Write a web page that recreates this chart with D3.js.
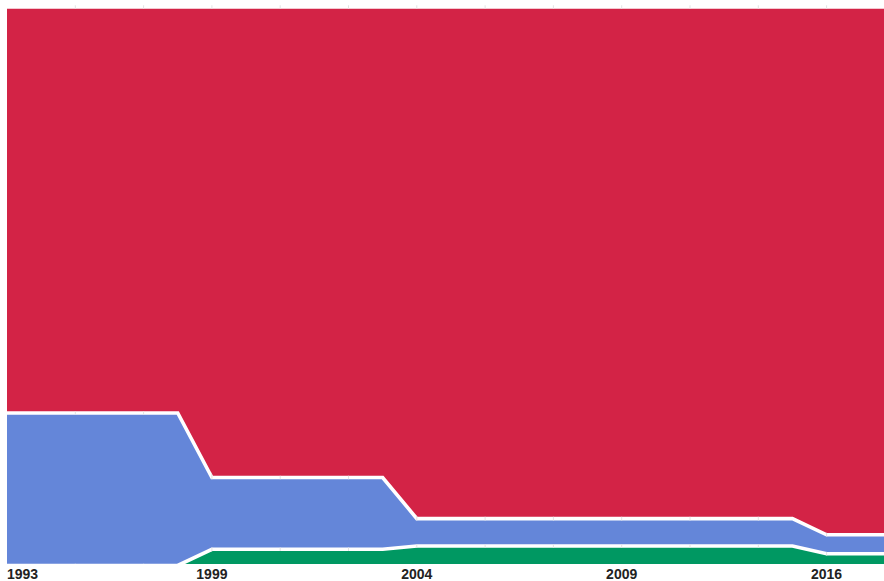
<!DOCTYPE html>
<html>
<head>
<meta charset="utf-8">
<script src="https://cdn.jsdelivr.net/npm/d3@7/dist/d3.min.js"></script>
<style>
  html, body { margin: 0; padding: 0; background: #fff; }
  svg { display: block; }
</style>
</head>
<body>
<svg id="chart" width="884" height="581"></svg>
<script>
// ---- data (percent share per category position) ----
const greenValues = [0, 0, 0, 0, 0, 0,
  2.9, 2.9, 2.9, 2.9, 2.9, 2.9,
  3.5, 3.5, 3.5, 3.5, 3.5, 3.5, 3.5, 3.5, 3.5, 3.5, 3.5, 3.5,
  2.1, 2.1, 2.1];
const blueValues = [27.3, 27.3, 27.3, 27.3, 27.3, 27.3,
  12.85, 12.85, 12.85, 12.85, 12.85, 12.85,
  4.9, 4.9, 4.9, 4.9, 4.9, 4.9, 4.9, 4.9, 4.9, 4.9, 4.9, 4.9,
  3.4, 3.4, 3.4];
const redValues = [72.7, 72.7, 72.7, 72.7, 72.7, 72.7,
  84.25, 84.25, 84.25, 84.25, 84.25, 84.25,
  91.6, 91.6, 91.6, 91.6, 91.6, 91.6, 91.6, 91.6, 91.6, 91.6, 91.6, 91.6,
  94.5, 94.5, 94.5];
const tickLabels = ["1993", "1999", "2004", "2009", "2016"];
const tickPositions = [0, 6, 12, 18, 24];
const gridPositions = [2, 4, 6, 8, 10, 12, 14, 16, 18, 20, 22, 24, 26];

const seriesKeys = ["green", "blue", "red"];
const colors = { green: "#009862", blue: "#6486d9", red: "#d32346" };

const categories = d3.range(redValues.length);
const table = categories.map(i => ({
  i, green: greenValues[i], blue: blueValues[i], red: redValues[i]
}));

// ---- layout ----
const W = 884, H = 581;
const svg = d3.select("#chart");
const x = d3.scalePoint().domain(categories).range([7, 7 + 34.15 * (categories.length - 1)]);
const y = d3.scaleLinear().domain([0, 1]).range([565.5, 7]);

const stack = d3.stack().keys(seriesKeys).offset(d3.stackOffsetExpand);
const layers = stack(table);

const defs = svg.append("defs");
defs.append("clipPath").attr("id", "plotClip")
  .append("rect").attr("x", 7).attr("y", 0).attr("width", W - 7).attr("height", 564);

const area = d3.area()
  .x((d, i) => x(i))
  .y0(d => y(d[0]))
  .y1(d => y(d[1]));
const line = d3.line()
  .x((d, i) => x(i))
  .y(d => y(d[1]));

const lineWidth = 3.6;

// mask so grid lines only show through the white separator lines
const mask = defs.append("mask").attr("id", "lineMask")
  .attr("maskUnits", "userSpaceOnUse")
  .attr("x", 0).attr("y", 0).attr("width", W).attr("height", H);
mask.append("rect").attr("width", W).attr("height", H).attr("fill", "black");
mask.selectAll("path").data(layers).join("path")
  .attr("d", line).attr("fill", "none").attr("stroke", "white").attr("stroke-width", lineWidth);

const plot = svg.append("g").attr("clip-path", "url(#plotClip)");

plot.selectAll("path.area").data(layers).join("path")
  .attr("class", "area")
  .attr("d", area)
  .attr("fill", d => colors[d.key]);

plot.selectAll("path.sep").data(layers).join("path")
  .attr("class", "sep")
  .attr("d", line)
  .attr("fill", "none")
  .attr("stroke", "#ffffff")
  .attr("stroke-width", lineWidth)
  .attr("stroke-linejoin", "miter");

plot.append("g").attr("mask", "url(#lineMask)")
  .selectAll("line").data(gridPositions).join("line")
  .attr("x1", d => x(d)).attr("x2", d => x(d))
  .attr("y1", y(1) - 3).attr("y2", y(0) + 3)
  .attr("stroke", "#e3e3e3").attr("stroke-width", 1);

// ---- x labels ----
svg.append("g").selectAll("text").data(tickLabels).join("text")
  .attr("x", (d, i) => x(tickPositions[i]))
  .attr("y", 579)
  .attr("text-anchor", (d, i) => i === 0 ? "start" : "middle")
  .attr("font-family", "'Liberation Sans', Arial, sans-serif")
  .attr("font-weight", "bold")
  .attr("font-size", 14)
  .attr("fill", "#222")
  .text(d => d);
</script>
</body>
</html>
